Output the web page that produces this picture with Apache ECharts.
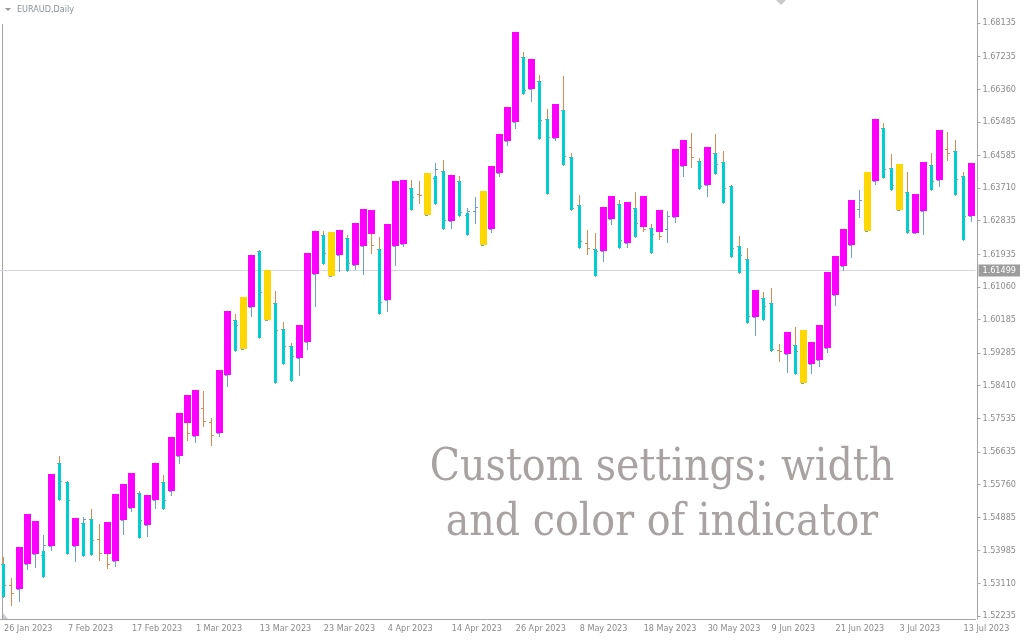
<!DOCTYPE html>
<html><head><meta charset="utf-8">
<script src="https://cdn.jsdelivr.net/npm/echarts@6/dist/echarts.min.js"></script>
<style>html,body{margin:0;padding:0;background:#fff}#c{width:1024px;height:640px}</style>
</head><body><div id="c"></div>
<script>
// ---- categories (trading days) ----
const dates = [
'26 Jan 2023','27 Jan 2023','30 Jan 2023','31 Jan 2023',
'1 Feb 2023','2 Feb 2023','3 Feb 2023','6 Feb 2023','7 Feb 2023','8 Feb 2023','9 Feb 2023','10 Feb 2023','13 Feb 2023','14 Feb 2023','15 Feb 2023','16 Feb 2023','17 Feb 2023','20 Feb 2023','21 Feb 2023','22 Feb 2023','23 Feb 2023','24 Feb 2023','27 Feb 2023','28 Feb 2023',
'1 Mar 2023','2 Mar 2023','3 Mar 2023','6 Mar 2023','7 Mar 2023','8 Mar 2023','9 Mar 2023','10 Mar 2023','13 Mar 2023','14 Mar 2023','15 Mar 2023','16 Mar 2023','17 Mar 2023','20 Mar 2023','21 Mar 2023','22 Mar 2023','23 Mar 2023','24 Mar 2023','27 Mar 2023','28 Mar 2023','29 Mar 2023','30 Mar 2023','31 Mar 2023',
'3 Apr 2023','4 Apr 2023','5 Apr 2023','6 Apr 2023','7 Apr 2023','10 Apr 2023','11 Apr 2023','12 Apr 2023','13 Apr 2023','14 Apr 2023','17 Apr 2023','18 Apr 2023','19 Apr 2023','20 Apr 2023','21 Apr 2023','24 Apr 2023','25 Apr 2023','26 Apr 2023','27 Apr 2023','28 Apr 2023',
'1 May 2023','2 May 2023','3 May 2023','4 May 2023','5 May 2023','8 May 2023','9 May 2023','10 May 2023','11 May 2023','12 May 2023','15 May 2023','16 May 2023','17 May 2023','18 May 2023','19 May 2023','22 May 2023','23 May 2023','24 May 2023','25 May 2023','26 May 2023','29 May 2023','30 May 2023','31 May 2023',
'1 Jun 2023','2 Jun 2023','5 Jun 2023','6 Jun 2023','7 Jun 2023','8 Jun 2023','9 Jun 2023','12 Jun 2023','13 Jun 2023','14 Jun 2023','15 Jun 2023','16 Jun 2023','19 Jun 2023','20 Jun 2023','21 Jun 2023','22 Jun 2023','23 Jun 2023','26 Jun 2023','27 Jun 2023','28 Jun 2023','29 Jun 2023','30 Jun 2023',
'3 Jul 2023','4 Jul 2023','5 Jul 2023','6 Jul 2023','7 Jul 2023','10 Jul 2023','11 Jul 2023','12 Jul 2023','13 Jul 2023','14 Jul 2023'
];

// ---- OHLC bars (EURAUD daily) ----
const openP = [
1.5363,1.5307,1.5296,1.5363,1.5390,1.5387,1.5411,1.5634,1.5583,1.5411,
1.5473,1.5484,1.5430,1.5454,1.5371,1.5481,1.5513,1.5553,1.5468,1.5535,
1.5583,1.5559,1.5653,1.5789,1.5706,1.5781,1.5744,1.5714,1.5870,1.6017,
1.5939,1.6052,1.6202,1.6017,1.6063,1.5993,1.5947,1.5915,1.5958,1.6141,
1.6245,1.6135,1.6191,1.6237,1.6165,1.6216,1.6299,1.6208,1.6071,1.6216,
1.6221,1.6371,1.6355,1.6299,1.6398,1.6417,1.6283,1.6390,1.6299,1.6309,
1.6218,1.6261,1.6411,1.6497,1.6548,1.6722,1.6637,1.6658,1.6556,1.6505,
1.6580,1.6454,1.6326,1.6224,1.6208,1.6202,1.6288,1.6328,1.6224,1.6317,
1.6339,1.6264,1.6299,1.6261,1.6293,1.6430,1.6481,1.6444,1.6379,1.6465,
1.6441,1.6376,1.6216,1.6181,1.6025,1.6076,1.6063,1.5937,1.5926,1.5950,
1.5848,1.5899,1.5910,1.5942,1.6084,1.6162,1.6218,1.6315,1.6256,1.6390,
1.6532,1.6425,1.6312,1.6360,1.6250,1.6309,1.6433,1.6393,1.6476,1.6470,
1.6403,1.6296];
const highP = [
1.5382,1.5325,1.5409,1.5497,1.5478,1.5441,1.5604,1.5653,1.5586,1.5486,
1.5489,1.5510,1.5470,1.5476,1.5551,1.5577,1.5607,1.5559,1.5548,1.5634,
1.5602,1.5703,1.5768,1.5816,1.5829,1.5827,1.5754,1.5883,1.6041,1.6033,
1.6079,1.6191,1.6205,1.6151,1.6095,1.6012,1.5956,1.6004,1.6197,1.6256,
1.6256,1.6253,1.6259,1.6245,1.6277,1.6315,1.6312,1.6240,1.6275,1.6390,
1.6393,1.6393,1.6390,1.6411,1.6438,1.6446,1.6406,1.6403,1.6317,1.6347,
1.6363,1.6430,1.6516,1.6588,1.6789,1.6736,1.6717,1.6674,1.6583,1.6596,
1.6671,1.6465,1.6352,1.6259,1.6250,1.6320,1.6350,1.6339,1.6334,1.6360,
1.6350,1.6275,1.6312,1.6309,1.6476,1.6500,1.6519,1.6452,1.6481,1.6516,
1.6470,1.6379,1.6242,1.6210,1.6098,1.6092,1.6103,1.5953,1.5985,1.5998,
1.5990,1.5958,1.6004,1.6146,1.6189,1.6261,1.6339,1.6366,1.6414,1.6556,
1.6545,1.6462,1.6435,1.6414,1.6355,1.6441,1.6465,1.6527,1.6521,1.6500,
1.6414,1.6438];
const lowP = [
1.5274,1.5253,1.5264,1.5350,1.5355,1.5328,1.5400,1.5535,1.5390,1.5371,
1.5384,1.5387,1.5374,1.5352,1.5358,1.5443,1.5505,1.5433,1.5438,1.5513,
1.5510,1.5548,1.5634,1.5695,1.5690,1.5733,1.5682,1.5706,1.5840,1.5934,
1.5939,1.6028,1.5969,1.6017,1.5848,1.5899,1.5854,1.5870,1.5939,1.6055,
1.6167,1.6135,1.6149,1.6149,1.6154,1.6141,1.6197,1.6033,1.6041,1.6165,
1.6216,1.6312,1.6331,1.6299,1.6328,1.6261,1.6264,1.6296,1.6245,1.6277,
1.6218,1.6253,1.6403,1.6486,1.6532,1.6623,1.6604,1.6503,1.6355,1.6500,
1.6433,1.6312,1.6210,1.6194,1.6135,1.6175,1.6275,1.6210,1.6213,1.6240,
1.6256,1.6197,1.6234,1.6226,1.6280,1.6403,1.6427,1.6368,1.6350,1.6409,
1.6331,1.6186,1.6143,1.6009,1.5977,1.6017,1.5934,1.5907,1.5878,1.5872,
1.5848,1.5875,1.5894,1.5931,1.6057,1.6151,1.6186,1.6293,1.6256,1.6382,
1.6398,1.6366,1.6312,1.6250,1.6250,1.6248,1.6366,1.6376,1.6446,1.6352,
1.6232,1.6283];
const closeP = [
1.5307,1.5285,1.5409,1.5497,1.5478,1.5414,1.5604,1.5586,1.5535,1.5486,
1.5484,1.5427,1.5392,1.5363,1.5551,1.5577,1.5607,1.5481,1.5548,1.5634,
1.5535,1.5703,1.5768,1.5714,1.5829,1.5746,1.5709,1.5883,1.6041,1.6004,
1.6079,1.6191,1.6092,1.6151,1.5990,1.5947,1.5921,1.6004,1.6197,1.6256,
1.6197,1.6253,1.6259,1.6170,1.6277,1.6315,1.6218,1.6065,1.6275,1.6390,
1.6393,1.6347,1.6352,1.6411,1.6422,1.6285,1.6406,1.6307,1.6309,1.6320,
1.6363,1.6430,1.6516,1.6588,1.6789,1.6634,1.6717,1.6553,1.6508,1.6596,
1.6457,1.6317,1.6229,1.6210,1.6202,1.6320,1.6350,1.6232,1.6334,1.6277,
1.6261,1.6248,1.6242,1.6296,1.6476,1.6500,1.6454,1.6376,1.6481,1.6435,
1.6371,1.6210,1.6191,1.6028,1.6098,1.6055,1.5939,1.5934,1.5985,1.5934,
1.5990,1.5958,1.6004,1.6146,1.6189,1.6261,1.6339,1.6339,1.6414,1.6556,
1.6422,1.6379,1.6435,1.6259,1.6355,1.6441,1.6390,1.6527,1.6465,1.6395,
1.6296,1.6438];

// ---- indicator bodies: upper / lower value and state (M, C, G; null = none) ----
const bodyHi = [
1.5363,null,1.5409,1.5497,1.5478,1.5398,1.5604,1.5634,1.5583,1.5486,
1.5473,1.5484,null,1.5476,1.5551,1.5577,1.5607,1.5553,1.5548,1.5634,
1.5583,1.5703,1.5768,1.5816,1.5829,null,null,1.5883,1.6041,1.6017,
1.6079,1.6191,1.6202,1.6151,1.6063,1.5993,1.5947,1.6004,1.6197,1.6256,
1.6245,1.6253,1.6259,1.6237,1.6277,1.6315,1.6312,1.6208,1.6275,1.6390,
1.6393,1.6371,null,1.6411,1.6403,1.6417,1.6406,1.6390,1.6304,null,
1.6363,1.6430,1.6516,1.6588,1.6789,1.6722,1.6717,1.6658,1.6556,1.6596,
1.6580,1.6454,1.6326,null,1.6208,1.6320,1.6350,1.6328,1.6334,1.6317,
1.6350,1.6264,1.6312,null,1.6476,1.6500,null,1.6444,1.6481,1.6465,
1.6441,1.6376,1.6216,1.6181,1.6098,1.6076,1.6063,null,1.5985,1.5950,
1.5990,1.5958,1.6004,1.6146,1.6189,1.6261,1.6339,null,1.6414,1.6556,
1.6532,1.6425,1.6435,1.6360,1.6355,1.6441,1.6433,1.6527,null,1.6470,
1.6403,1.6438];
const bodyLo = [
1.5274,null,1.5296,1.5363,1.5390,1.5328,1.5411,1.5535,1.5390,1.5411,
1.5384,1.5387,null,1.5390,1.5371,1.5481,1.5513,1.5433,1.5468,1.5535,
1.5510,1.5559,1.5653,1.5741,1.5706,null,null,1.5714,1.5870,1.5934,
1.5939,1.6052,1.5969,1.6017,1.5848,1.5899,1.5854,1.5915,1.5958,1.6141,
1.6167,1.6135,1.6191,1.6149,1.6165,1.6216,1.6248,1.6033,1.6071,1.6216,
1.6221,1.6312,null,1.6299,1.6328,1.6261,1.6283,1.6296,1.6245,null,
1.6218,1.6261,1.6411,1.6497,1.6548,1.6623,1.6637,1.6503,1.6355,1.6505,
1.6433,1.6312,1.6210,null,1.6135,1.6202,1.6288,1.6210,1.6224,1.6240,
1.6267,1.6197,1.6253,null,1.6293,1.6430,null,1.6368,1.6379,1.6409,
1.6331,1.6186,1.6143,1.6009,1.6025,1.6017,1.5934,null,1.5926,1.5872,
1.5848,1.5899,1.5910,1.5942,1.6084,1.6162,1.6218,null,1.6256,1.6390,
1.6398,1.6366,1.6312,1.6250,1.6250,1.6309,1.6366,1.6393,null,1.6352,
1.6232,1.6296];
const bodyKind = [
'C',null,'M','M','M','C','M','C','C','M',
'C','C',null,'M','M','M','M','C','M','M',
'C','M','M','M','M',null,null,'M','M','C',
'G','M','C','G','C','C','C','M','M','M',
'C','G','M','C','M','M','M','C','M','M',
'M','C',null,'G','C','C','M','C','C',null,
'G','M','M','M','M','C','M','C','C','M',
'C','C','C',null,'C','M','M','C','M','C',
'M','C','M',null,'M','M',null,'C','M','C',
'C','C','C','C','M','C','C',null,'M','C',
'G','M','M','M','M','M','M',null,'G','M',
'C','C','G','C','M','M','C','M',null,'C',
'C','M'];

// ---- axis tick labels ----
const yTicks = [1.52235,1.53110,1.53985,1.54885,1.55760,1.56635,1.57535,1.58410,1.59285,
  1.60185,1.61060,1.61935,1.62835,1.63710,1.64585,1.65485,1.66360,1.67235,1.68135];
const lastPrice = 1.61499;
const symbolTitle = 'EURAUD,Daily';
const noteLines = ['Custom settings: width', 'and color of indicator'];

// ---- styles ----
const kindColor = { M: '#ff00ff', C: '#00ced1', G: '#ffd700' };
const kindWidth = { M: 7, C: 3, G: 7 };
const upLine = '#6f9ed6', downLine = '#d98a50';
const axisGray = '#a4a4a4', labelGray = '#8a8a8a';
const uiFont = '"DejaVu Sans Condensed", "Liberation Sans", sans-serif';

const chart = echarts.init(document.getElementById('c'), null, { renderer: 'canvas' });

function renderItem(params, api) {
  const i = params.dataIndex;
  const o = api.value(1), h = api.value(2), l = api.value(3), c = api.value(4);
  const x = api.coord([i, h])[0];
  const yh = Math.round(api.coord([i, h])[1]);
  const yl = Math.round(api.coord([i, l])[1]);
  const yo = Math.round(api.coord([i, o])[1]);
  const yc = Math.round(api.coord([i, c])[1]);
  const col = c >= o ? upLine : downLine;
  const xl = Math.round(x - 0.5);
  const children = [
    { type: 'rect', shape: { x: xl, y: yh, width: 1, height: Math.max(1, yl - yh + 1) }, style: { fill: col } },
    { type: 'rect', shape: { x: xl - 2, y: yo, width: 2, height: 1 }, style: { fill: col } },
    { type: 'rect', shape: { x: xl + 1, y: yc, width: 2, height: 1 }, style: { fill: col } }
  ];
  const k = bodyKind[i];
  if (k) {
    const bt = Math.round(api.coord([i, bodyHi[i]])[1]);
    const bb = Math.round(api.coord([i, bodyLo[i]])[1]);
    const w = kindWidth[k];
    children.push({ type: 'rect', shape: { x: xl - (w - 1) / 2, y: bt, width: w, height: Math.max(1, bb - bt) },
      style: { fill: kindColor[k] } });
  }
  return { type: 'group', children };
}

const option = {
  animation: false,
  backgroundColor: '#ffffff',
  grid: { left: -0.5, right: 48.5, top: 0, bottom: 21, containLabel: false },
  xAxis: {
    type: 'category', data: dates, boundaryGap: true,
    axisLine: { lineStyle: { color: axisGray, width: 1 } },
    axisTick: { alignWithLabel: true, interval: 7, length: 4, lineStyle: { color: axisGray } },
    axisLabel: { interval: 7, align: 'left', color: labelGray, fontSize: 9, fontFamily: uiFont, margin: 5 },
    splitLine: { show: false }
  },
  yAxis: {
    type: 'value', position: 'right', offset: 2, scale: true,
    min: 1.52155, max: 1.68752,
    axisLine: { show: true, lineStyle: { color: axisGray, width: 1 } },
    axisTick: { show: true, customValues: yTicks, length: 3, lineStyle: { color: axisGray } },
    axisLabel: { customValues: yTicks, formatter: v => v.toFixed(5), color: labelGray, fontSize: 9, fontFamily: uiFont, margin: 5 },
    splitLine: { show: false }
  },
  series: [
    {
      type: 'custom', renderItem: renderItem, clip: false,
      encode: { x: 0, y: [1, 2, 3, 4] },
      data: dates.map((d, i) => [i, openP[i], highP[i], lowP[i], closeP[i]]),
      markLine: {
        silent: true, symbol: 'none', animation: false, precision: 5, z: 1,
        lineStyle: { color: '#d6d6de', width: 1, type: 'solid' },
        label: { show: true, position: 'end', distance: 3, formatter: () => lastPrice.toFixed(5),
          color: '#ffffff', backgroundColor: '#9c9c9c', padding: [2, 4, 1, 4], fontSize: 9, fontFamily: uiFont },
        emphasis: { disabled: true },
        data: [{ yAxis: lastPrice }]
      }
    }
  ],
  graphic: [
    { type: 'rect', shape: { x: 2, y: 24, width: 1, height: 595 }, style: { fill: axisGray }, silent: true },
    { type: 'polygon', shape: { points: [[3, 613], [3, 619], [8, 619]] }, style: { fill: '#c8c8d0' }, silent: true },
    { type: 'polygon', shape: { points: [[776, 0], [786, 0], [781, 5]] }, style: { fill: '#c8c8c8' }, silent: true },
    { type: 'polygon', shape: { points: [[5, 8], [11, 8], [8, 11]] }, style: { fill: '#9098a0' }, silent: true },
    { type: 'text', x: 17, y: 10, silent: true,
      style: { text: symbolTitle, fill: '#8a8f98', font: '9px ' + uiFont, verticalAlign: 'middle' } },
    { type: 'text', x: 662, y: 469, silent: true, z: 0,
      style: { text: noteLines[0], fill: '#a8a2a2', font: '44px "DejaVu Serif Condensed", "DejaVu Serif", serif', align: 'center', verticalAlign: 'middle' } },
    { type: 'text', x: 662, y: 524, silent: true, z: 0,
      style: { text: noteLines[1], fill: '#a8a2a2', font: '44px "DejaVu Serif Condensed", "DejaVu Serif", serif', align: 'center', verticalAlign: 'middle' } }
  ]
};
chart.setOption(option);
</script>
</body></html>
